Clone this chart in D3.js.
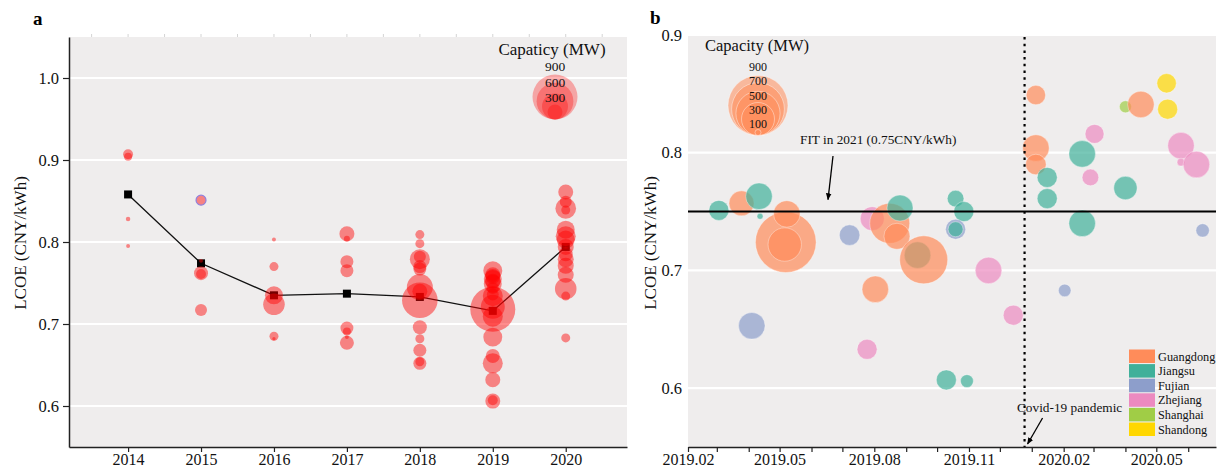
<!DOCTYPE html>
<html>
<head>
<meta charset="utf-8">
<script src="https://cdn.jsdelivr.net/npm/d3@7"></script>
<style>
  html, body { margin: 0; padding: 0; background: #fff; }
  svg { display: block; font-family: "Liberation Serif", "Times New Roman", serif; }
</style>
</head>
<body>
<svg id="chart" width="1218" height="470"></svg>
<script>
// ---------- Panel a: LCOE by year, bubble size = capacity (MW) ----------
const yearsA = [2014, 2015, 2016, 2017, 2018, 2019, 2020];
const meanA  = [0.858, 0.774, 0.735, 0.737, 0.733, 0.716, 0.794];

// one inner list per year, in the order of yearsA
const lcoeByYearA = [
  [0.907, 0.904, 0.828, 0.795],
  [0.851, 0.777, 0.762, 0.761, 0.717],
  [0.803, 0.770, 0.735, 0.724, 0.685, 0.682],
  [0.810, 0.804, 0.776, 0.765, 0.695, 0.691, 0.684, 0.677],
  [0.809, 0.798, 0.779, 0.782, 0.770, 0.767, 0.745, 0.729, 0.740, 0.696, 0.682, 0.668, 0.652, 0.654],
  [0.765, 0.760, 0.758, 0.755, 0.752, 0.749, 0.744, 0.736, 0.734, 0.721, 0.718, 0.709, 0.684, 0.661, 0.652, 0.632, 0.606, 0.607],
  [0.861, 0.849, 0.841, 0.839, 0.815, 0.807, 0.803, 0.794, 0.785, 0.779, 0.771, 0.760, 0.743, 0.734, 0.683]
];
const capByYearA = [
  [44, 28, 9, 7],
  [44, 7, 87, 44, 64],
  [7, 36, 144, 207, 36, 5],
  [100, 16, 75, 75, 75, 28, 7, 87],
  [36, 36, 178, 64, 75, 75, 300, 563, 100, 87, 36, 75, 75, 36],
  [160, 100, 100, 144, 100, 144, 64, 64, 178, 256, 900, 178, 160, 87, 178, 100, 100, 44],
  [100, 64, 190, 36, 144, 178, 144, 114, 87, 114, 114, 114, 207, 36, 36]
];
const ringedA = { year: 2015, index: 0 }; // the 2015 project drawn with an edge
const legendCapA = [900, 600, 300, 100];
const legendLabelA = ["900", "600", "300"];

// ---------- Panel b: projects by approval date and province ----------
const provinces = ["Guangdong", "Jiangsu", "Fujian", "Zhejiang", "Shanghai", "Shandong"];
const provColors = ["#ff8c5a", "#40b09a", "#8d9ecb", "#ec8ac0", "#a0cd46", "#ffd700"];

const ptProvB = [
  "Jiangsu", "Guangdong", "Jiangsu", "Jiangsu", "Guangdong", "Guangdong", "Guangdong",
  "Fujian", "Fujian", "Zhejiang", "Guangdong", "Zhejiang", "Guangdong", "Guangdong", "Jiangsu",
  "Jiangsu", "Guangdong", "Jiangsu", "Jiangsu", "Fujian", "Jiangsu", "Jiangsu", "Jiangsu",
  "Zhejiang", "Zhejiang", "Guangdong", "Guangdong", "Guangdong", "Jiangsu", "Jiangsu", "Fujian",
  "Jiangsu", "Jiangsu", "Zhejiang", "Zhejiang", "Jiangsu", "Shanghai", "Guangdong",
  "Shandong", "Shandong", "Zhejiang", "Zhejiang", "Zhejiang", "Fujian"
];
const ptDateB = [
  "2019-03-03", "2019-03-25", "2019-04-11", "2019-04-12", "2019-05-07", "2019-05-06", "2019-05-08",
  "2019-04-04", "2019-07-08", "2019-07-25", "2019-08-02", "2019-07-30", "2019-08-16", "2019-08-23", "2019-08-26",
  "2019-09-12", "2019-09-18", "2019-10-19", "2019-10-27", "2019-10-19", "2019-10-19", "2019-10-10", "2019-10-30",
  "2019-11-20", "2019-12-14", "2020-01-05", "2020-01-05", "2020-01-05", "2020-01-16", "2020-01-16", "2020-02-02",
  "2020-02-19", "2020-02-19", "2020-03-02", "2020-02-27", "2020-04-01", "2020-04-01", "2020-04-16",
  "2020-05-11", "2020-05-12", "2020-05-25", "2020-05-25", "2020-06-09", "2020-06-15"
];
const ptLcoeB = [
  0.751, 0.757, 0.763, 0.746, 0.724, 0.722, 0.748,
  0.653, 0.730, 0.633, 0.684, 0.744, 0.740, 0.729, 0.753,
  0.713, 0.709, 0.761, 0.750, 0.735, 0.735, 0.607, 0.606,
  0.700, 0.662, 0.849, 0.804, 0.790, 0.779, 0.761, 0.683,
  0.799, 0.740, 0.816, 0.779, 0.770, 0.839, 0.841,
  0.859, 0.837, 0.806, 0.792, 0.790, 0.734
];
const ptCapB = [
  154, 199, 216, 100, 920, 306, 216,
  216, 158, 154, 216, 189, 417, 210, 210,
  216, 584, 131, 154, 154, 122, 154, 113,
  216, 154, 149, 216, 158, 154, 154, 112,
  216, 216, 146, 131, 183, 110, 216,
  149, 154, 216, 101, 216, 115
];
const legendCapB = [900, 700, 500, 300, 100];

const fitLevel = 0.75;
const covidDate = "2019-12-25";

// ---------- drawing ----------
const svg = d3.select("#chart");
const parse = d3.timeParse("%Y-%m-%d");
const bg = "#efeded";
const black = "#111";
const serif = "Liberation Serif, Times New Roman, serif";

function styleAxis(g) {
  g.select(".domain").attr("stroke", "#222").attr("stroke-width", 1.5);
  g.selectAll(".tick line").attr("stroke", "#222").attr("stroke-width", 1.2);
  g.selectAll(".tick text").attr("font-size", 16).attr("fill", black).attr("font-family", serif);
}

// ===== Panel a =====
const A = { left: 69, right: 627, top: 37, bottom: 447 };
const xA = d3.scaleLinear().domain([2013.19, 2020.84]).range([A.left, A.right]);
const yA = d3.scaleLinear().domain([0.55, 1.05]).range([A.bottom, A.top]);
const rA = d3.scaleSqrt().domain([0, 900]).range([0, 22.5]);

const gA = svg.append("g");
gA.append("rect").attr("x", A.left).attr("y", A.top)
  .attr("width", A.right - A.left).attr("height", A.bottom - A.top).attr("fill", bg);

const yTicksA = [0.6, 0.7, 0.8, 0.9, 1.0];
gA.selectAll("line.grid").data(yTicksA).join("line")
  .attr("x1", A.left).attr("x2", A.right)
  .attr("y1", d => yA(d)).attr("y2", d => yA(d))
  .attr("stroke", "#fff").attr("stroke-width", 2.2);

// light half-year ticks along the top edge
gA.selectAll("line.top").data(d3.range(2013.5, 2021, 0.5)).join("line")
  .attr("x1", d => xA(d)).attr("x2", d => xA(d))
  .attr("y1", A.top - 3).attr("y2", A.top)
  .attr("stroke", "#d4d4d4").attr("stroke-width", 1);

// mean line and squares
const meanLine = d3.line().x((d, i) => xA(yearsA[i])).y(d => yA(d));
gA.append("path").datum(meanA).attr("d", meanLine)
  .attr("fill", "none").attr("stroke", black).attr("stroke-width", 1.3);
gA.selectAll("rect.mean").data(meanA).join("rect")
  .attr("x", (d, i) => xA(yearsA[i]) - 4).attr("y", d => yA(d) - 4)
  .attr("width", 8).attr("height", 8).attr("fill", "#000");

// bubbles
const ptsA = yearsA.flatMap((year, k) => lcoeByYearA[k].map((v, j) => ({
  year, lcoe: v, cap: capByYearA[k][j],
  ringed: year === ringedA.year && j === ringedA.index
})));
gA.selectAll("circle.pt").data(ptsA).join("circle")
  .attr("cx", d => xA(d.year)).attr("cy", d => yA(d.lcoe)).attr("r", d => rA(d.cap))
  .attr("fill", "#ff0000").attr("fill-opacity", 0.45)
  .attr("stroke", d => d.ringed ? "#8f80dd" : "none").attr("stroke-width", 1.2);

// size legend
const legAx = 555, legAbase = 119.5;
gA.selectAll("circle.leg").data(legendCapA).join("circle")
  .attr("cx", legAx).attr("cy", d => legAbase - rA(d)).attr("r", d => rA(d))
  .attr("fill", "#ff0000").attr("fill-opacity", 0.3);
gA.append("text").attr("x", 552).attr("y", 55).attr("text-anchor", "middle")
  .attr("font-size", 17).attr("fill", black).text("Capaticy (MW)");
gA.selectAll("text.leg").data(legendLabelA).join("text")
  .attr("x", legAx).attr("y", (d, i) => 71 + i * 15.5).attr("text-anchor", "middle")
  .attr("font-size", 13.5).attr("fill", black).text(d => d);

// axes
const axA = gA.append("g").attr("transform", `translate(0,${A.bottom})`)
  .call(d3.axisBottom(xA).tickValues(yearsA).tickFormat(d3.format("d"))
    .tickSize(5).tickSizeOuter(0).tickPadding(2));
const ayA = gA.append("g").attr("transform", `translate(${A.left},0)`)
  .call(d3.axisLeft(yA).tickValues(yTicksA).tickFormat(d3.format(".1f"))
    .tickSize(6).tickSizeOuter(0).tickPadding(4));
styleAxis(axA);
styleAxis(ayA);
ayA.selectAll(".tick text").attr("font-size", 16.5);
gA.append("text").attr("transform", "translate(26,243) rotate(-90)").attr("text-anchor", "middle")
  .attr("font-size", 17).attr("fill", black).text("LCOE (CNY/kWh)");
gA.append("text").attr("x", 33).attr("y", 25).attr("font-size", 19).attr("font-weight", "bold")
  .attr("fill", "#000").text("a");

// ===== Panel b =====
const B = { left: 688, right: 1216, top: 35, bottom: 447 };
const xB = d3.scaleTime().domain([parse("2019-02-01"), parse("2020-06-28")]).range([B.left, B.right]);
const yB = d3.scaleLinear().domain([0.55, 0.9]).range([B.bottom, B.top]);
// bubble radius: area grows with capacity above the smallest legend size
const capMinB = 100, capMaxB = 900, rMinB = 3, rMaxB = 30;
const rB = c => rMinB + (rMaxB - rMinB) * Math.sqrt(Math.max(0, c - capMinB) / (capMaxB - capMinB));
const color = d3.scaleOrdinal().domain(provinces).range(provColors);

const gB = svg.append("g");
gB.append("rect").attr("x", B.left).attr("y", B.top)
  .attr("width", B.right - B.left).attr("height", B.bottom - B.top).attr("fill", bg);
const yTicksB = [0.6, 0.7, 0.8, 0.9];
gB.selectAll("line.grid").data(yTicksB).join("line")
  .attr("x1", B.left).attr("x2", B.right)
  .attr("y1", d => yB(d)).attr("y2", d => yB(d))
  .attr("stroke", "#fff").attr("stroke-width", 2.2);

// bubbles
const ptsB = ptProvB.map((p, i) => ({ prov: p, date: parse(ptDateB[i]), lcoe: ptLcoeB[i], cap: ptCapB[i] }));
gB.selectAll("circle.pt").data(ptsB).join("circle")
  .attr("cx", d => xB(d.date)).attr("cy", d => yB(d.lcoe)).attr("r", d => rB(d.cap))
  .attr("fill", d => color(d.prov)).attr("fill-opacity", 0.7)
  .attr("stroke", "#fff").attr("stroke-opacity", 0.45).attr("stroke-width", 0.8);

// FIT reference line
gB.append("line").attr("x1", B.left).attr("x2", B.right)
  .attr("y1", yB(fitLevel)).attr("y2", yB(fitLevel))
  .attr("stroke", "#000").attr("stroke-width", 2);

// Covid-19 marker
gB.append("line").attr("x1", xB(parse(covidDate))).attr("x2", xB(parse(covidDate)))
  .attr("y1", B.top + 2).attr("y2", B.bottom)
  .attr("stroke", "#000").attr("stroke-width", 2.2).attr("stroke-dasharray", "2.5,4.2");

// arrows
const defs = svg.append("defs");
defs.append("marker").attr("id", "arrow").attr("viewBox", "0 0 10 10")
  .attr("refX", 9).attr("refY", 5).attr("markerWidth", 7).attr("markerHeight", 7)
  .attr("orient", "auto-start-reverse").attr("markerUnits", "userSpaceOnUse")
  .append("path").attr("d", "M0,1 L10,5 L0,9 Z").attr("fill", "#000");

const fitX = 833, covidX = xB(parse(covidDate));
gB.append("line").attr("x1", fitX).attr("y1", 156).attr("x2", fitX - 5).attr("y2", yB(fitLevel) - 12)
  .attr("stroke", "#000").attr("stroke-width", 1.3).attr("marker-end", "url(#arrow)");
gB.append("text").attr("x", 800).attr("y", 144).attr("font-size", 13.3).attr("fill", black)
  .text("FIT in 2021 (0.75CNY/kWh)");
gB.append("line").attr("x1", covidX + 18).attr("y1", 418).attr("x2", covidX + 3).attr("y2", B.bottom - 3)
  .attr("stroke", "#000").attr("stroke-width", 1.3).attr("marker-end", "url(#arrow)");
gB.append("text").attr("x", 1017).attr("y", 412).attr("font-size", 13.3).attr("fill", black)
  .text("Covid-19 pandemic");

// size legend
const legBx = 758, legBbase = 135.5;
gB.selectAll("circle.leg").data(legendCapB).join("circle")
  .attr("cx", legBx).attr("cy", d => legBbase - rB(d)).attr("r", d => rB(d))
  .attr("fill", color("Guangdong")).attr("fill-opacity", 0.55)
  .attr("stroke", "#fff").attr("stroke-opacity", 0.5).attr("stroke-width", 0.8);
gB.append("text").attr("x", 705).attr("y", 51).attr("font-size", 16.5).attr("fill", black)
  .text("Capacity (MW)");
gB.selectAll("text.leg").data(legendCapB).join("text")
  .attr("x", legBx).attr("y", (d, i) => 71 + i * 14.3).attr("text-anchor", "middle")
  .attr("font-size", 12).attr("fill", black).text(d => d);

// province legend
const legPx = 1129, legPy = 349.5, legStep = 14.6;
gB.selectAll("rect.prov").data(provinces).join("rect")
  .attr("x", legPx).attr("y", (d, i) => legPy + i * legStep)
  .attr("width", 26).attr("height", 13.5).attr("fill", d => color(d));
gB.selectAll("text.prov").data(provinces).join("text")
  .attr("x", legPx + 29).attr("y", (d, i) => legPy + i * legStep + 11)
  .attr("font-size", 12.3).attr("fill", black).text(d => d);

// axes
const monthFmt = d3.timeFormat("%Y.%m");
const axB = gB.append("g").attr("transform", `translate(0,${B.bottom})`)
  .call(d3.axisBottom(xB).ticks(d3.timeMonth.every(1)).tickSize(5).tickSizeOuter(0).tickPadding(2)
    .tickFormat(d => d.getMonth() % 3 === 1 ? monthFmt(d) : ""));
styleAxis(axB);

gB.selectAll("text.ylab").data(yTicksB).join("text")
  .attr("x", B.left - 6).attr("y", d => yB(d)).attr("dy", "0.35em")
  .attr("text-anchor", "end").attr("font-size", 16.5).attr("fill", black)
  .text(d3.format(".1f"));
gB.append("text").attr("transform", "translate(656,243) rotate(-90)").attr("text-anchor", "middle")
  .attr("font-size", 17).attr("fill", black).text("LCOE (CNY/kWh)");
gB.append("text").attr("x", 650).attr("y", 24).attr("font-size", 19).attr("font-weight", "bold")
  .attr("fill", "#000").text("b");
</script>
</body>
</html>
